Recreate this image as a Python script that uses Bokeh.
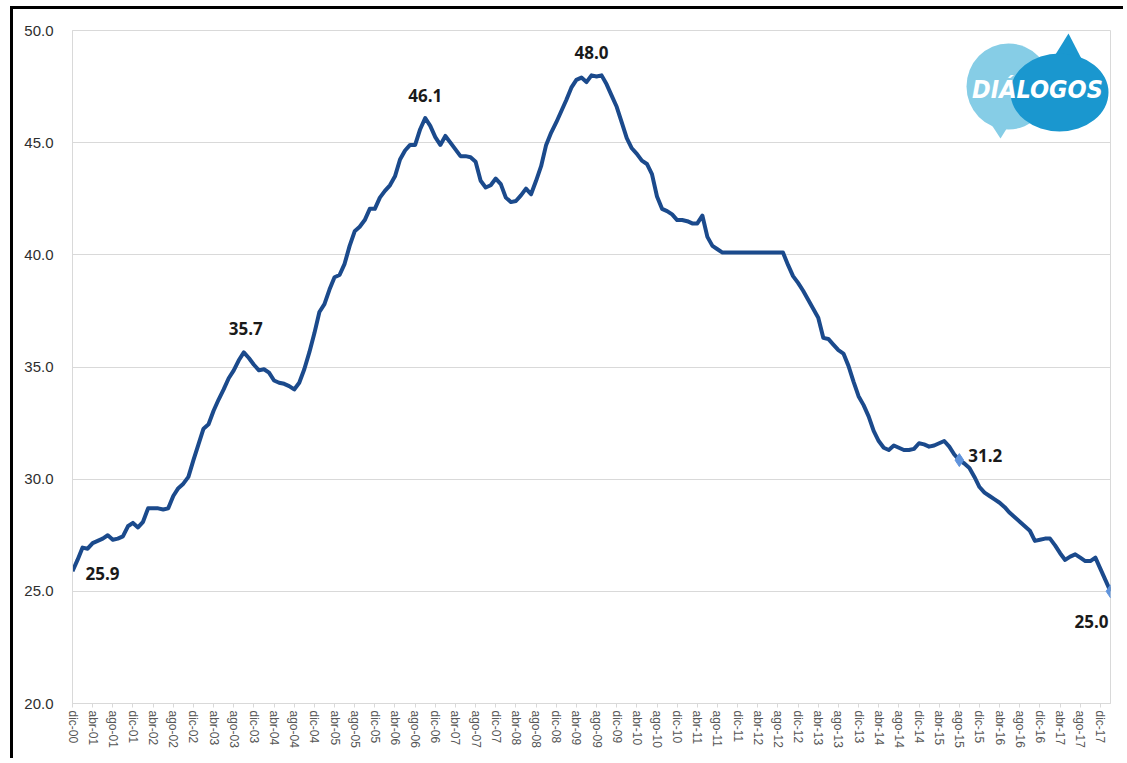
from bokeh.plotting import figure
from bokeh.models import Range1d, FixedTicker, NumeralTickFormatter, Label, ColumnDataSource
from bokeh.embed import file_html
from bokeh.resources import INLINE

# ---------------- data (monthly, dic-00 .. feb-18) ----------------
values = [
    25.9,
    26.4, 26.95, 26.9, 27.15, 27.25, 27.35, 27.5, 27.3, 27.35, 27.45, 27.9, 28.05,
    27.85, 28.1, 28.7, 28.7, 28.7, 28.65, 28.7, 29.25, 29.6, 29.8, 30.1, 30.85,
    31.55, 32.25, 32.45, 33.05, 33.55, 34.0, 34.5, 34.85, 35.3, 35.65, 35.4, 35.1,
    34.85, 34.9, 34.75, 34.4, 34.3, 34.25, 34.15, 34.0, 34.3, 34.9, 35.65, 36.5,
    37.45, 37.8, 38.45, 39.0, 39.1, 39.6, 40.4, 41.05, 41.25, 41.55, 42.05, 42.05,
    42.55, 42.85, 43.1, 43.5, 44.25, 44.65, 44.9, 44.9, 45.6, 46.1, 45.75, 45.25,
    44.9, 45.3, 45.0, 44.7, 44.4, 44.4, 44.35, 44.15, 43.3, 43.0, 43.1, 43.4,
    43.15, 42.55, 42.35, 42.4, 42.65, 42.95, 42.7, 43.3, 43.95, 44.9, 45.45, 45.9,
    46.4, 46.9, 47.45, 47.8, 47.9, 47.7, 48.0, 47.95, 48.0, 47.6, 47.1, 46.6,
    45.9, 45.2, 44.75, 44.5, 44.2, 44.05, 43.6, 42.6, 42.05, 41.95, 41.8, 41.55,
    41.55, 41.5, 41.4, 41.4, 41.75, 40.8, 40.4, 40.25, 40.1, 40.1, 40.1, 40.1,
    40.1, 40.1, 40.1, 40.1, 40.1, 40.1, 40.1, 40.1, 40.1, 39.55, 39.05, 38.75,
    38.4, 38.0, 37.6, 37.2, 36.3, 36.25, 36.0, 35.75, 35.6, 35.05, 34.35, 33.7,
    33.3, 32.8, 32.15, 31.7, 31.4, 31.3, 31.5, 31.4, 31.3, 31.3, 31.35, 31.6,
    31.55, 31.45, 31.5, 31.6, 31.7, 31.45, 31.1, 30.85, 30.7, 30.5, 30.1, 29.65,
    29.4, 29.25, 29.1, 28.95, 28.75, 28.5, 28.3, 28.1, 27.9, 27.7, 27.25, 27.3,
    27.35, 27.35, 27.05, 26.7, 26.4, 26.55, 26.65, 26.5, 26.35, 26.35, 26.5, 26.0,
    25.5, 25.0,
]
month_index = list(range(len(values)))

tick_positions = list(range(0, 205, 4))
tick_labels = [
    "dic-00", "abr-01", "ago-01", "dic-01", "abr-02", "ago-02", "dic-02",
    "abr-03", "ago-03", "dic-03", "abr-04", "ago-04", "dic-04",
    "abr-05", "ago-05", "dic-05", "abr-06", "ago-06", "dic-06",
    "abr-07", "ago-07", "dic-07", "abr-08", "ago-08", "dic-08",
    "abr-09", "ago-09", "dic-09", "abr-10", "ago-10", "dic-10",
    "abr-11", "ago-11", "dic-11", "abr-12", "ago-12", "dic-12",
    "abr-13", "ago-13", "dic-13", "abr-14", "ago-14", "dic-14",
    "abr-15", "ago-15", "dic-15", "abr-16", "ago-16", "dic-16",
    "abr-17", "ago-17", "dic-17",
]

y_ticks = [20, 25, 30, 35, 40, 45, 50]

label_idx = [0, 34, 70, 103, 176, 206]
label_text = ["25.9", "35.7", "46.1", "48.0", "31.2", "25.0"]
marker_idx = [176, 206]

# ---------------- figure ----------------
W, H = 1113, 752
p = figure(width=W, height=H, output_backend="svg", toolbar_location=None,
           x_range=Range1d(0, 206), y_range=Range1d(20, 50),
           min_border_left=59, min_border_right=16, min_border_top=21, min_border_bottom=58,
           background_fill_color="white", border_fill_color="white")
p.styles = {"border-left": "3px solid black", "border-top": "3px solid black",
            "margin-left": "10px", "margin-top": "6px"}
p.outline_line_color = "#d9d9d9"
p.outline_line_width = 1

# grid
p.xgrid.grid_line_color = None
p.ygrid.ticker = FixedTicker(ticks=y_ticks)
p.ygrid.grid_line_color = "#d9d9d9"
p.ygrid.grid_line_width = 1

# y axis
p.yaxis.ticker = FixedTicker(ticks=y_ticks)
p.yaxis.formatter = NumeralTickFormatter(format="0.0")
p.yaxis.axis_line_color = "#d9d9d9"
p.yaxis.major_tick_line_color = None
p.yaxis.minor_tick_line_color = None
p.yaxis.major_label_standoff = 13
p.yaxis.major_label_text_font = "Liberation Sans"
p.yaxis.major_label_text_font_size = "15px"
p.yaxis.major_label_text_color = "#2e2e2e"

# x axis
p.xaxis.ticker = FixedTicker(ticks=tick_positions)
p.xaxis.major_label_overrides = {t: l for t, l in zip(tick_positions, tick_labels)}
p.xaxis.major_label_orientation = "vertical"
p.xaxis.axis_line_color = "#d9d9d9"
p.xaxis.major_tick_line_color = "#d9d9d9"
p.xaxis.major_tick_out = 4
p.xaxis.major_tick_in = 0
p.xaxis.minor_tick_line_color = None
p.xaxis.major_label_standoff = 3
p.xaxis.major_label_text_font = "Liberation Sans"
p.xaxis.major_label_text_font_size = "12px"
p.xaxis.major_label_text_color = "#555555"

# ---------------- logo ----------------
def px2x(px):
    return (px - 72) / (1038 / 206)

def px2y(py):
    return 20 + (703 - py) / (673 / 30)

p.patch([px2x(985), px2x(1010), px2x(1000)], [px2y(115), px2y(122), px2y(138)],
        color="#86cde6", line_color=None)
p.ellipse(x=[px2x(1008)], y=[px2y(86)], width=[84], height=[86],
          width_units="screen", height_units="screen",
          fill_color="#86cde6", line_color=None)
p.patch([px2x(1050), px2x(1085), px2x(1068)], [px2y(62), px2y(66), px2y(33)],
        color="#1a97cf", line_color=None)
p.ellipse(x=[px2x(1059)], y=[px2y(92)], width=[98], height=[78],
          width_units="screen", height_units="screen",
          fill_color="#1a97cf", line_color=None)
p.add_layout(Label(x=px2x(1037), y=px2y(89), text="DIÁLOGOS",
                   text_font="DejaVu Sans Condensed, Roboto, sans-serif",
                   text_font_style="bold italic",
                   text_font_size="25px", text_color="white",
                   text_align="center", text_baseline="middle"))

# ---------------- series ----------------
src = ColumnDataSource(dict(x=month_index, y=values))
p.line("x", "y", source=src, line_color="#1b4a8c", line_width=4, line_join="round")

mk = ColumnDataSource(dict(x=marker_idx, y=[values[i] for i in marker_idx]))
p.scatter("x", "y", source=mk, marker="diamond", size=13,
          fill_color="#5f93dc", line_color="#5f93dc")

# data labels
offsets = [(13, -2, "left"), (2, 24, "center"), (0, 22, "center"),
           (0, 23, "center"), (9, 5, "left"), (-2, -30, "right")]
for i, t, (dx, dy, al) in zip(label_idx, label_text, offsets):
    p.add_layout(Label(x=i, y=values[i], text=t, x_offset=dx, y_offset=dy,
                       text_font="Open Sans", text_font_style="bold",
                       text_font_size="17px", text_color="#1a1a1a",
                       text_align=al, text_baseline="middle"))

open("out.html", "w").write(file_html(p, INLINE))
